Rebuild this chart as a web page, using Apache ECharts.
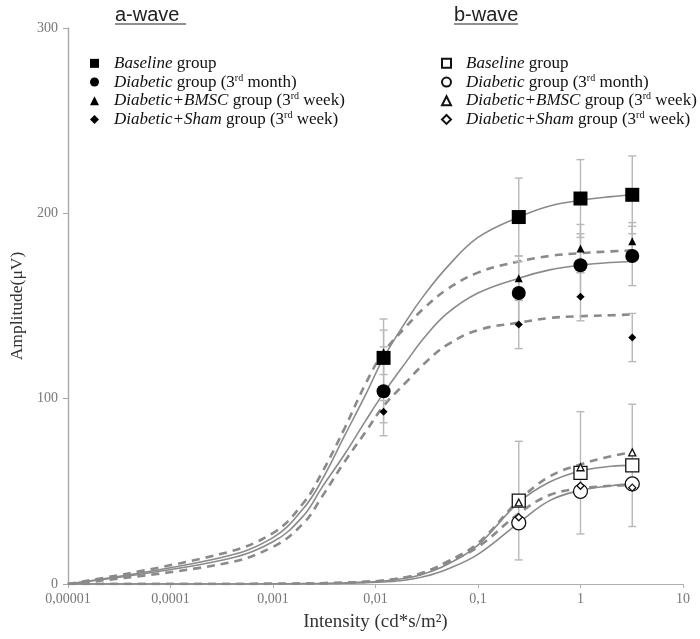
<!DOCTYPE html>
<html>
<head>
<meta charset="utf-8">
<script src="https://cdn.jsdelivr.net/npm/echarts@6/dist/echarts.min.js"></script>
<style>html,body{margin:0;padding:0;background:#fff;}#chart{width:700px;height:639px;}</style>
</head>
<body>
<div id="chart"></div>
<script>
// ---- data ----
const tickLabels = ['0,00001', '0,0001', '0,001', '0,01', '0,1', '1', '10'];
const groupNames = ['Baseline', 'Diabetic', 'Diabetic+BMSC', 'Diabetic+Sham'];

// a-wave measured points
const aX = [0.012, 0.25, 1, 3.2];
const aBaseline = [122, 198, 208, 210];
const aDiabetic = [104, 157, 172, 177];
const aBMSC = [125, 165, 181, 185];
const aSham = [93, 140, 155, 133];
const aBaselineErr = [21, 21, 21, 21];
const aDiabeticErr = [24, 17, 17, 16];
const aBMSCErr = [12, 12, 13, 10];
const aShamErr = [6, 13, 13, 13];

// b-wave measured points
const bX = [0.25, 1, 3.2];
const bBaseline = [45, 60, 64];
const bDiabetic = [33, 50, 54];
const bBMSC = [44, 63, 71];
const bSham = [36, 53, 52];
const bBaselineErr = [32, 33, 33];

// fitted curves
const fitX = [0.00001, 0.0003, 0.001, 0.002, 0.003, 0.005, 0.008, 0.012, 0.02, 0.03, 0.05, 0.1, 0.25, 0.5, 1, 2, 3.2];
const aFitBaseline = [0, 14, 25, 41, 56, 80, 102, 122, 142, 156, 171, 187, 198, 204, 207, 209, 210];
const aFitDiabetic = [0, 12.5, 22.8, 37, 52, 70, 88, 103, 120, 133, 146, 157, 165, 169.5, 172, 173.5, 174];
const aFitBMSC = [0, 16, 27.5, 44, 60, 84, 108, 125, 139, 149, 159, 168, 174, 177, 178.5, 179.5, 180];
const aFitSham = [0, 10.5, 20, 33, 47, 66, 82, 96, 109, 119, 129, 137, 141, 143.5, 144.5, 145, 145.5];
const bFitBaseline = [0, 0, 0.1, 0.2, 0.3, 0.6, 1.0, 1.6, 3.2, 5.5, 10.5, 21, 44, 55, 61, 63.5, 64];
const bFitDiabetic = [0, 0, 0, 0.1, 0.2, 0.4, 0.7, 1.1, 2.2, 4.0, 8.0, 16, 33, 45, 50.5, 53, 54];
const bFitBMSC = [0, 0, 0.1, 0.2, 0.4, 0.7, 1.2, 1.9, 3.6, 6.3, 12, 22, 45, 58, 64.5, 69, 71];
const bFitSham = [0, 0, 0.1, 0.2, 0.4, 0.7, 1.2, 1.9, 3.6, 6.3, 11.5, 20, 38, 48, 51.5, 53, 53.5];

// ---- build ----
const chart = echarts.init(document.getElementById('chart'));
const serif = 'Liberation Serif';
const curveColor = '#8a8a8a';
const errColor = '#b8b8b8';

const pairs = (xs, ys) => xs.map((x, i) => [x, ys[i]]);
const errs = (xs, ys, es) => xs.map((x, i) => [x, ys[i] - es[i], ys[i] + es[i]]);

function fitLine(ys, dashed) {
  return {
    type: 'line', data: pairs(fitX, ys), symbol: 'none', smooth: 0.4, silent: true, z: 2,
    lineStyle: dashed ? { color: curveColor, width: 2.6, type: [8, 6] } : { color: curveColor, width: 1.6 }
  };
}
function errSeries(data) {
  return {
    type: 'custom', data: data, z: 3, silent: true, encode: { x: 0, y: [1, 2] },
    renderItem: function (params, api) {
      const x = api.value(0);
      const p1 = api.coord([x, api.value(1)]);
      const p2 = api.coord([x, api.value(2)]);
      const w = 4;
      const st = { stroke: errColor, lineWidth: 1.4 };
      return {
        type: 'group', children: [
          { type: 'line', shape: { x1: p1[0], y1: p1[1], x2: p2[0], y2: p2[1] }, style: st },
          { type: 'line', shape: { x1: p1[0] - w, y1: p1[1], x2: p1[0] + w, y2: p1[1] }, style: st },
          { type: 'line', shape: { x1: p2[0] - w, y1: p2[1], x2: p2[0] + w, y2: p2[1] }, style: st }
        ]
      };
    }
  };
}
function scatter(name, data, symbol, size, hollow) {
  return {
    type: 'scatter', name: name, data: data, symbol: symbol, symbolSize: size, z: 5,
    itemStyle: hollow ? { color: '#ffffff', borderColor: '#111', borderWidth: 1.3, opacity: 1 } : { color: '#000', opacity: 1 }
  };
}

const legendLabels = {};
const labelTpl = [
  '{i|Baseline} group',
  '{i|Diabetic} group (3{s|rd} month)',
  '{i|Diabetic+BMSC} group (3{s|rd} week)',
  '{i|Diabetic+Sham} group (3{s|rd} week)'
];
const aNames = groupNames.map(g => 'a:' + g);
const bNames = groupNames.map(g => 'b:' + g);
aNames.forEach((n, i) => legendLabels[n] = labelTpl[i]);
bNames.forEach((n, i) => legendLabels[n] = labelTpl[i]);

const legendText = {
  fontFamily: serif, fontSize: 17, color: '#111', lineHeight: 18.7, padding: [0, 0, 0, 10],
  rich: {
    i: { fontFamily: serif, fontSize: 17, fontStyle: 'italic', color: '#111' },
    s: { fontFamily: serif, fontSize: 10, color: '#111', padding: [0, 0, 8, 0] }
  }
};
function legend(names, left) {
  return {
    data: names, orient: 'vertical', left: left, top: 49, itemWidth: 9, itemHeight: 9,
    itemGap: 0, selectedMode: false, formatter: n => legendLabels[n], textStyle: legendText
  };
}

const titleStyle = { fontFamily: 'Liberation Sans', fontSize: 20, fontWeight: 'normal', color: '#222' };

const option = {
  animation: false,
  backgroundColor: '#fff',
  title: [
    { text: 'a-wave', left: 110, top: 0, textStyle: titleStyle },
    { text: 'b-wave', left: 449, top: 0, textStyle: titleStyle }
  ],
  graphic: [
    { type: 'line', shape: { x1: 115, y1: 24, x2: 186, y2: 24 }, style: { stroke: '#222', lineWidth: 1.2 } },
    { type: 'line', shape: { x1: 454, y1: 24, x2: 518, y2: 24 }, style: { stroke: '#222', lineWidth: 1.2 } }
  ],
  legend: [legend(aNames, 85), legend(bNames, 436)],
  grid: { left: 64, right: 17, top: 28, bottom: 55, containLabel: false },
  xAxis: {
    type: 'log', logBase: 10, min: 0.00001, max: 10,
    name: 'Intensity (cd*s/m²)', nameLocation: 'middle', nameGap: 29,
    nameTextStyle: { fontFamily: serif, fontSize: 19, color: '#333' },
    axisLine: { lineStyle: { color: '#b0b0b0', width: 1 } },
    axisTick: { show: true, length: 4, lineStyle: { color: '#b0b0b0' } },
    minorTick: { show: false },
    splitLine: { show: false },
    axisLabel: { formatter: (v, i) => tickLabels[i], fontFamily: serif, fontSize: 14, color: '#777', margin: 8 }
  },
  yAxis: {
    type: 'value', min: 0, max: 300, interval: 100,
    name: 'Amplitude(μV)', nameLocation: 'middle', nameGap: 36, nameRotate: 90,
    nameTextStyle: { fontFamily: serif, fontSize: 17.5, color: '#333' },
    axisLine: { show: true, lineStyle: { color: '#a8a8a8', width: 1.4 } },
    axisTick: { show: true, length: 5, lineStyle: { color: '#a8a8a8' } },
    splitLine: { show: false },
    axisLabel: { fontFamily: serif, fontSize: 14, color: '#777', margin: 10 }
  },
  series: [
    fitLine(aFitBaseline, false), fitLine(aFitDiabetic, false), fitLine(aFitBMSC, true), fitLine(aFitSham, true),
    fitLine(bFitBaseline, false), fitLine(bFitDiabetic, false), fitLine(bFitBMSC, true), fitLine(bFitSham, true),
    errSeries(errs(aX, aBaseline, aBaselineErr)),
    errSeries(errs(aX, aDiabetic, aDiabeticErr)),
    errSeries(errs(aX, aBMSC, aBMSCErr)),
    errSeries(errs(aX, aSham, aShamErr)),
    errSeries(errs(bX, bBaseline, bBaselineErr)),
    scatter(aNames[0], pairs(aX, aBaseline), 'rect', 14, false),
    scatter(aNames[1], pairs(aX, aDiabetic), 'circle', 14, false),
    scatter(aNames[2], pairs(aX, aBMSC), 'triangle', 8, false),
    scatter(aNames[3], pairs(aX, aSham), 'diamond', 8, false),
    scatter(bNames[0], pairs(bX, bBaseline), 'rect', 13, true),
    scatter(bNames[1], pairs(bX, bDiabetic), 'circle', 14, true),
    scatter(bNames[2], pairs(bX, bBMSC), 'triangle', 7, true),
    scatter(bNames[3], pairs(bX, bSham), 'diamond', 7, true)
  ]
};
chart.setOption(option);
</script>
</body>
</html>
